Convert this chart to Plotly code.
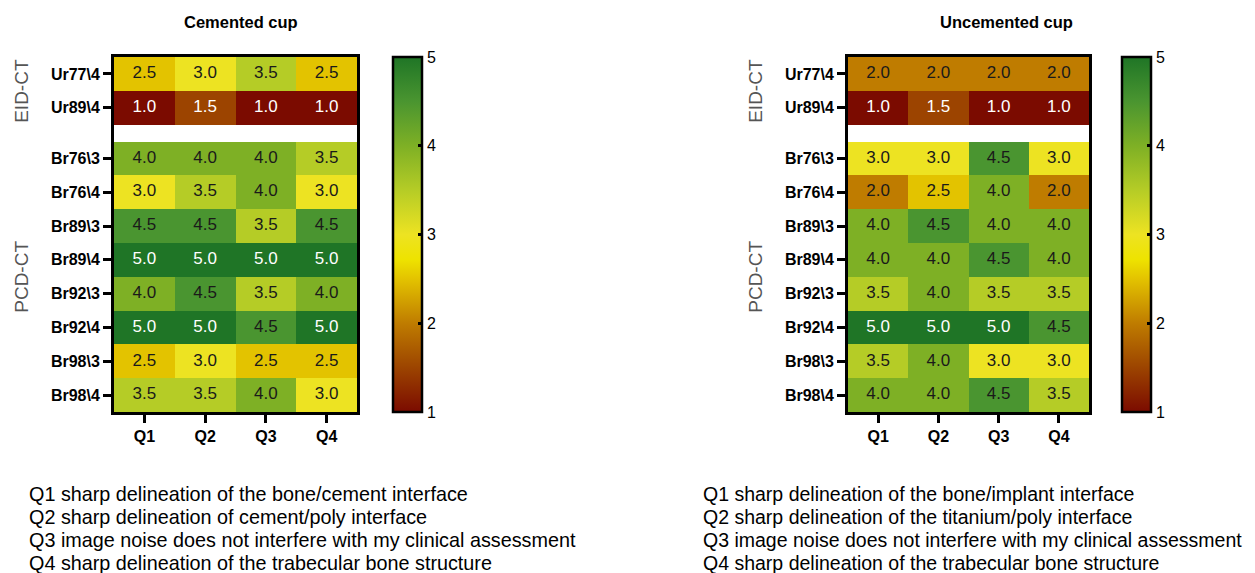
import plotly.graph_objects as go

# ---------------- data ----------------
questions = ["Q1", "Q2", "Q3", "Q4"]
rows_eid = ["Ur77\\4", "Ur89\\4"]
rows_pcd = ["Br76\\3", "Br76\\4", "Br89\\3", "Br89\\4", "Br92\\3",
            "Br92\\4", "Br98\\3", "Br98\\4"]

cemented_eid = [[2.5, 3.0, 3.5, 2.5],
                [1.0, 1.5, 1.0, 1.0]]
cemented_pcd = [[4.0, 4.0, 4.0, 3.5],
                [3.0, 3.5, 4.0, 3.0],
                [4.5, 4.5, 3.5, 4.5],
                [5.0, 5.0, 5.0, 5.0],
                [4.0, 4.5, 3.5, 4.0],
                [5.0, 5.0, 4.5, 5.0],
                [2.5, 3.0, 2.5, 2.5],
                [3.5, 3.5, 4.0, 3.0]]

uncemented_eid = [[2.0, 2.0, 2.0, 2.0],
                  [1.0, 1.5, 1.0, 1.0]]
uncemented_pcd = [[3.0, 3.0, 4.5, 3.0],
                  [2.0, 2.5, 4.0, 2.0],
                  [4.0, 4.5, 4.0, 4.0],
                  [4.0, 4.0, 4.5, 4.0],
                  [3.5, 4.0, 3.5, 3.5],
                  [5.0, 5.0, 5.0, 4.5],
                  [3.5, 4.0, 3.0, 3.0],
                  [4.0, 4.0, 4.5, 3.5]]

titles = ["Cemented cup", "Uncemented cup"]
group_names = ["EID-CT", "PCD-CT"]
notes_left = ["Q1 sharp delineation of the bone/cement interface",
              "Q2 sharp delineation of cement/poly interface",
              "Q3 image noise does not interfere with my clinical assessment",
              "Q4 sharp delineation of the trabecular bone structure"]
notes_right = ["Q1 sharp delineation of the bone/implant interface",
               "Q2 sharp delineation of the titanium/poly interface",
               "Q3 image noise does not interfere with my clinical assessment",
               "Q4 sharp delineation of the trabecular bone structure"]

colorscale = [[0.0, "#7b0b00"], [0.125, "#9c4400"], [0.25, "#bf7c00"],
              [0.375, "#e3c300"], [0.43, "#eee300"], [0.5, "#ede322"],
              [0.625, "#b5cc26"], [0.75, "#7eb025"], [0.875, "#4a9530"],
              [1.0, "#1f7526"]]

# ---------------- layout geometry ----------------
OFF = 8  # page body margin
W, H = 1255 - OFF, 573 - OFF
GAP = 0.5
FONT = "Liberation Sans, Arial, sans-serif"


def px_x(p):
    return (p - OFF) / W


def px_y(p):
    return 1 - (p - OFF) / H


n_eid, n_pcd = len(rows_eid), len(rows_pcd)
edges = list(range(n_eid + 1)) + [n_eid + GAP + i for i in range(n_pcd + 1)]
centers_eid = [i + 0.5 for i in range(n_eid)]
centers_pcd = [n_eid + GAP + i + 0.5 for i in range(n_pcd)]
centers = centers_eid + centers_pcd
labels = rows_eid + rows_pcd

fig = go.Figure()

panels = [
    dict(eid=cemented_eid, pcd=cemented_pcd, xd=(114, 357), cbx=393,
         notes=notes_left, nx=28, nsize=19.8, tx=241),
    dict(eid=uncemented_eid, pcd=uncemented_pcd, xd=(848, 1089), cbx=1122,
         notes=notes_right, nx=702, nsize=19.5, tx=1006),
]

top_px, bot_px = 57, 412
annotations = []
for k, p in enumerate(panels):
    xa = "x" if k == 0 else "x2"
    ya = "y" if k == 0 else "y2"
    z = p["eid"] + [[None] * len(questions)] + p["pcd"]
    fig.add_trace(go.Heatmap(
        z=z, x=questions, y=edges, xaxis=xa, yaxis=ya,
        zmin=1, zmax=5, colorscale=colorscale, hoverongaps=False,
        colorbar=dict(
            x=px_x(p["cbx"]), xanchor="left", xref="paper",
            y=px_y(top_px), yanchor="top", len=(bot_px - top_px) / H, lenmode="fraction",
            thickness=29, thicknessmode="pixels",
            outlinewidth=2.5, outlinecolor="black",
            tickvals=[1, 2, 3, 4, 5], ticks="inside", ticklen=5, tickwidth=2.5,
            tickcolor="black", tickprefix="\u00a0\u00a0\u00a0",
            tickfont=dict(family=FONT, size=16, color="black"),
            ypad=0, xpad=0,
        ),
    ))
    vals = p["eid"] + p["pcd"]
    tx, ty, tt, tc = [], [], [], []
    for r, row in enumerate(vals):
        for c, v in enumerate(row):
            tx.append(questions[c])
            ty.append(centers[r])
            tt.append(f"{v:.1f}")
            tc.append("white" if (v <= 1.5 or v >= 5) else "#1a1a1a")
    fig.add_trace(go.Scatter(
        x=tx, y=ty, text=tt, mode="text", xaxis=xa, yaxis=ya,
        textfont=dict(family=FONT, size=17, color=tc), hoverinfo="skip", showlegend=False,
    ))

    axis_common = dict(showline=True, linewidth=3, linecolor="black", mirror=True,
                       ticks="outside", ticklen=8, tickwidth=2.5, tickcolor="black",
                       showgrid=False, zeroline=False)
    fig.update_layout({
        ("xaxis" if k == 0 else "xaxis2"): dict(
            domain=[px_x(p["xd"][0]), px_x(p["xd"][1])], anchor=ya,
            tickfont=dict(family=FONT, size=16, color="black", weight="bold"),
            **axis_common),
        ("yaxis" if k == 0 else "yaxis2"): dict(
            domain=[px_y(bot_px), px_y(top_px)], anchor=xa,
            range=[edges[-1], edges[0]],
            tickvals=centers, ticktext=labels,
            tickfont=dict(family=FONT, size=16, color="black", weight="bold"),
            **axis_common),
    })

    # title
    annotations.append(dict(
        text=f"<b>{titles[k]}</b>", xref="paper", yref="paper",
        x=px_x(p["tx"]), y=px_y(22),
        showarrow=False, font=dict(family=FONT, size=16.5, color="black"),
        xanchor="center", yanchor="middle"))
    # group labels
    for gname, cs in zip(group_names, [centers_eid, centers_pcd]):
        annotations.append(dict(
            text=gname, xref="paper", yref=ya,
            x=px_x(p["xd"][0] - 92), y=(cs[0] + cs[-1]) / 2,
            textangle=-90, showarrow=False,
            font=dict(family=FONT, size=19, color="#555555"),
            xanchor="center", yanchor="middle"))
    # notes
    for i, line in enumerate(p["notes"]):
        annotations.append(dict(
            text=line, xref="paper", yref="paper",
            x=px_x(p["nx"]), y=px_y(494 + 23 * i), showarrow=False,
            borderpad=0,
            font=dict(family=FONT, size=p["nsize"], color="black"),
            xanchor="left", yanchor="middle"))

fig.update_layout(
    width=W, height=H, margin=dict(l=0, r=0, t=0, b=0),
    paper_bgcolor="white", plot_bgcolor="white",
    showlegend=False, annotations=annotations,
    font=dict(family=FONT),
)

fig.write_html("out.html")
